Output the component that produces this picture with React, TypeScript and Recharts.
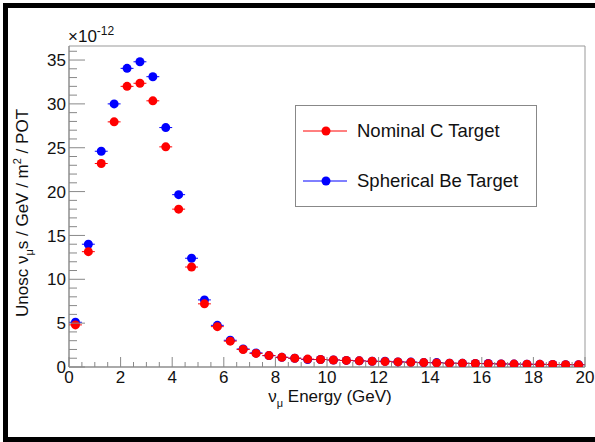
import { ErrorBar, ReferenceArea, Scatter, ScatterChart, XAxis, YAxis } from "recharts";

const energy = [
  0.25, 0.75, 1.25, 1.75, 2.25, 2.75, 3.25, 3.75, 4.25, 4.75,
  5.25, 5.75, 6.25, 6.75, 7.25, 7.75, 8.25, 8.75, 9.25, 9.75,
  10.25, 10.75, 11.25, 11.75, 12.25, 12.75, 13.25, 13.75, 14.25, 14.75,
  15.25, 15.75, 16.25, 16.75, 17.25, 17.75, 18.25, 18.75, 19.25, 19.75,
];

// units of 1e-12
const nominalC = [
  4.8, 13.15, 23.2, 27.95, 32.0, 32.35, 30.35, 25.1, 18.0, 11.4,
  7.2, 4.6, 2.95, 2.0, 1.55, 1.3, 1.1, 1.0, 0.9, 0.85,
  0.8, 0.75, 0.7, 0.65, 0.62, 0.58, 0.54, 0.5, 0.47, 0.44,
  0.42, 0.4, 0.37, 0.35, 0.33, 0.31, 0.3, 0.28, 0.27, 0.25,
];

const sphericalBe = [
  5.1, 14.0, 24.6, 30.0, 34.05, 34.8, 33.1, 27.3, 19.65, 12.4,
  7.65, 4.75, 3.05, 2.05, 1.6, 1.3, 1.1, 1.0, 0.85, 0.85,
  0.8, 0.75, 0.7, 0.65, 0.65, 0.58, 0.56, 0.5, 0.5, 0.44,
  0.42, 0.4, 0.4, 0.35, 0.33, 0.31, 0.3, 0.28, 0.27, 0.26,
];

const binHalfWidth = 0.25;

const xTicks = [
  0, 0.5, 1, 1.5, 2, 2.5, 3, 3.5, 4, 4.5, 5, 5.5, 6, 6.5, 7, 7.5, 8, 8.5, 9, 9.5,
  10, 10.5, 11, 11.5, 12, 12.5, 13, 13.5, 14, 14.5, 15, 15.5, 16, 16.5, 17, 17.5,
  18, 18.5, 19, 19.5, 20,
];
const yTicks = [
  0, 1, 2, 3, 4, 5, 6, 7, 8, 9, 10, 11, 12, 13, 14, 15, 16, 17, 18, 19, 20,
  21, 22, 23, 24, 25, 26, 27, 28, 29, 30, 31, 32, 33, 34, 35, 36,
];

const legendItems = [
  { name: "Nominal C Target", color: "#ff0000" },
  { name: "Spherical Be Target", color: "#0000ff" },
];

const FONT = "'Liberation Sans', Arial, sans-serif";
const TICK_COLOR = "#888";
const M = 6; // tick margin handed to recharts, used to get back the axis line position

const redPts = energy.map((x, i) => ({ x, y: nominalC[i], xerr: binHalfWidth }));
const bluePts = energy.map((x, i) => ({ x, y: sphericalBe[i], xerr: binHalfWidth }));

function YTick(props: any) {
  const { x, y, payload } = props;
  const ax = x + M;
  const major = payload.value % 5 === 0;
  return (
    <g>
      <line x1={ax} x2={ax + (major ? 16 : 8)} y1={y} y2={y} stroke={TICK_COLOR} />
      {major && (
        <text x={ax - 3} y={y} dy="0.36em" textAnchor="end" fontSize={17} fontFamily={FONT} fill="#111">
          {payload.value}
        </text>
      )}
    </g>
  );
}

function XTick(props: any) {
  const { x, y, payload } = props;
  const ay = y - M;
  const major = payload.value % 2 === 0;
  return (
    <g>
      <line x1={x} x2={x} y1={ay} y2={ay - (major ? 10 : 5)} stroke={TICK_COLOR} />
      {major && (
        <text x={x} y={ay + 16} textAnchor="middle" fontSize={17} fontFamily={FONT} fill="#111">
          {payload.value}
        </text>
      )}
    </g>
  );
}

function dot(color: string) {
  return (p: any) => <circle cx={p.cx} cy={p.cy} r={4.5} fill={color} />;
}

function LegendBox() {
  return (
    <div
      style={{
        position: "absolute",
        left: 295,
        top: 105,
        width: 242,
        height: 102,
        border: "1px solid #888",
        boxSizing: "border-box",
        background: "#fff",
        fontFamily: FONT,
        fontSize: 18.5,
        color: "#111",
      }}
    >
      {legendItems.map((r, i) => (
        <div key={r.name} style={{ position: "absolute", left: 7, top: 13 + i * 50, height: 24, display: "flex", alignItems: "center" }}>
          <svg width={46} height={24}>
            <line x1={0} x2={44} y1={12} y2={12} stroke={r.color} />
            <circle cx={23} cy={12} r={4.5} fill={r.color} />
          </svg>
          <span style={{ marginLeft: 8, whiteSpace: "nowrap" }}>{r.name}</span>
        </div>
      ))}
    </div>
  );
}

export default function App() {
  return (
    <div style={{ position: "absolute", left: 0, top: 0, width: 595, height: 442, overflow: "hidden", background: "#fff" }}>
      <div
        style={{
          position: "absolute",
          left: 3,
          top: 3,
          width: 600,
          height: 439,
          boxSizing: "border-box",
          borderTop: "5px solid #000",
          borderLeft: "5px solid #000",
          borderBottom: "5px solid #000",
        }}
      />
      <div style={{ position: "absolute", left: 0, top: 0 }}>
        <ScatterChart width={595} height={442} margin={{ top: 46, right: 10, bottom: 45, left: 9 }}>
          <XAxis
            type="number"
            dataKey="x"
            domain={[0, 20]}
            ticks={xTicks}
            interval={0}
            height={30}
            tickLine={false}
            tickSize={0}
            tickMargin={M}
            tick={<XTick />}
            axisLine={{ stroke: TICK_COLOR }}
            allowDataOverflow
          />
          <YAxis
            type="number"
            dataKey="y"
            domain={[0, 36.6]}
            ticks={yTicks}
            interval={0}
            width={60}
            tickLine={false}
            tickSize={0}
            tickMargin={M}
            tick={<YTick />}
            axisLine={{ stroke: TICK_COLOR }}
            allowDataOverflow
          />
          <ReferenceArea x1={0} x2={20} y1={0} y2={36.6} fill="none" stroke="#999" strokeWidth={1} />
          <Scatter name="Spherical Be Target" data={bluePts} fill="#0000ff" shape={dot("#0000ff")} isAnimationActive={false}>
            <ErrorBar dataKey="xerr" direction="x" width={0} stroke="#0000ff" strokeWidth={1} />
          </Scatter>
          <Scatter name="Nominal C Target" data={redPts} fill="#ff0000" shape={dot("#ff0000")} isAnimationActive={false}>
            <ErrorBar dataKey="xerr" direction="x" width={0} stroke="#ff0000" strokeWidth={1} />
          </Scatter>
        </ScatterChart>
      </div>
      <LegendBox />
      <div style={{ position: "absolute", left: 68, top: 27, fontFamily: FONT, fontSize: 17, color: "#111", whiteSpace: "nowrap" }}>
        ×10<span style={{ fontSize: 12, position: "relative", top: -7 }}>-12</span>
      </div>
      <div
        style={{
          position: "absolute",
          left: 23,
          top: 213,
          transform: "translate(-50%, -50%) rotate(-90deg)",
          fontFamily: FONT,
          fontSize: 17,
          color: "#111",
          whiteSpace: "nowrap",
        }}
      >
        Unosc ν<span style={{ fontSize: 11, position: "relative", top: 5 }}>μ</span>s / GeV / m
        <span style={{ fontSize: 11, position: "relative", top: -7 }}>2</span> / POT
      </div>
      <div
        style={{
          position: "absolute",
          left: 330,
          top: 388,
          transform: "translateX(-50%)",
          fontFamily: FONT,
          fontSize: 17,
          lineHeight: 1,
          color: "#111",
          whiteSpace: "nowrap",
        }}
      >
        ν<span style={{ fontSize: 11, position: "relative", top: 5 }}>μ</span> Energy (GeV)
      </div>
    </div>
  );
}
